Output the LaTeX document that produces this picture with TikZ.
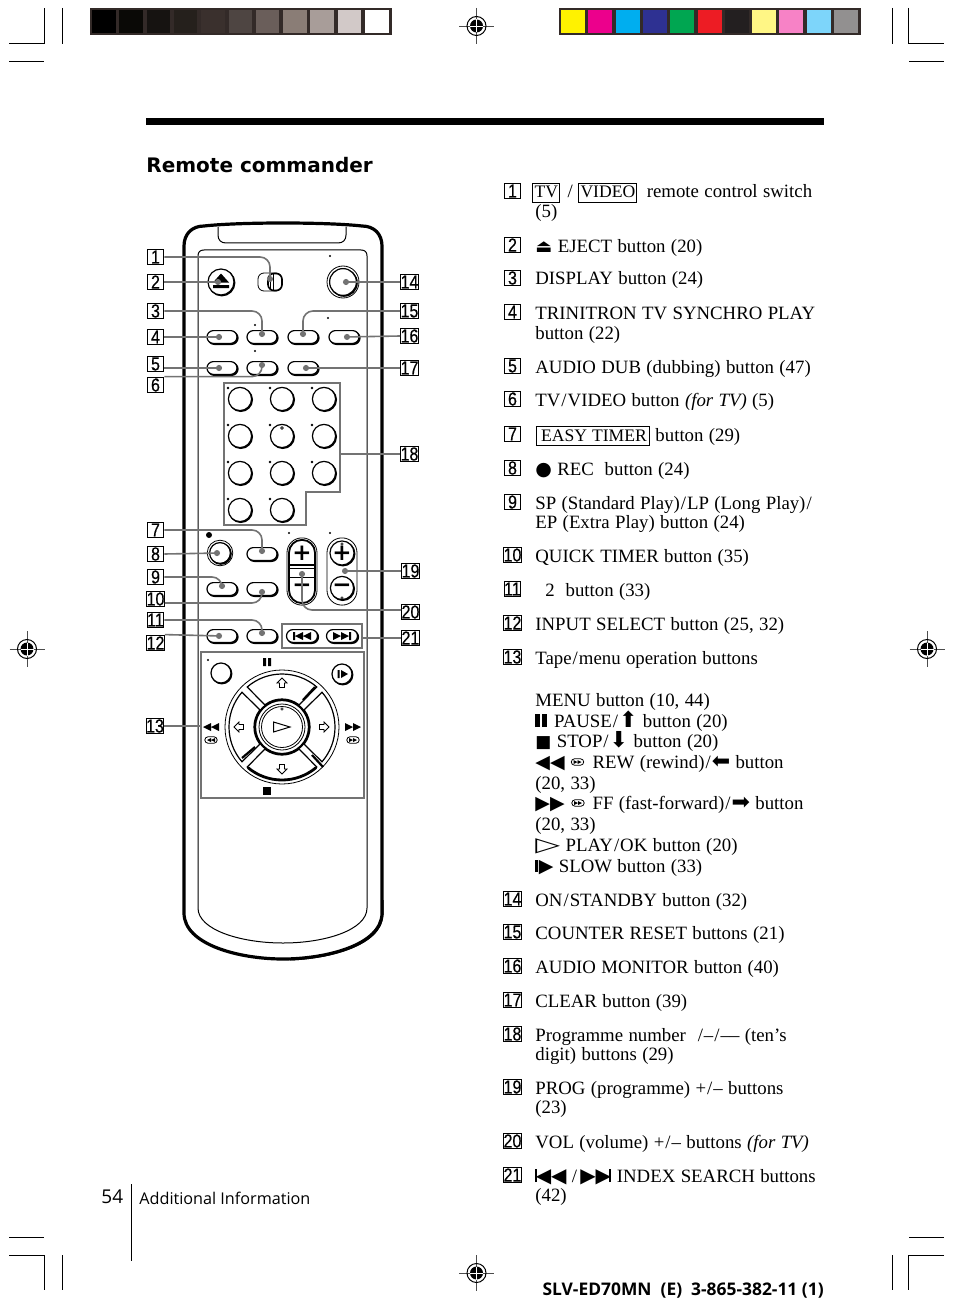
\documentclass[tikz,border=0pt]{standalone}
\usepackage{fontspec}
\usetikzlibrary{arrows.meta}
\usetikzlibrary{shapes.misc}
\usetikzlibrary{shadows}
\setmainfont{Liberation Serif}[WordSpace=1.15]
\newfontfamily\symfont{DejaVu Sans}
\newfontfamily\numfont[FakeStretch=0.85,FakeBold=0.4]{Liberation Sans}
\newfontfamily\footfont{Open Sans}
\setlength{\fboxsep}{0.6pt}
\setlength{\fboxrule}{0.5pt}
\definecolor{barframe}{HTML}{332A28}
\newcommand{\sy}[2][9.5]{{\symfont\fontsize{#1}{10}\selectfont #2}}
\newcommand{\sla}{\kern0.5pt/\kern0.5pt}
\newcommand{\boxed}[1]{\fbox{\fontsize{8.8}{10}\selectfont\rule[-1.2pt]{0pt}{7.4pt}#1}}
\newcommand{\prevsy}{\rule{1pt}{6.6pt}\kern-0.8pt\sy[10]{◀◀}}
\newcommand{\nextsy}{\sy[10]{▶▶}\kern-0.8pt\rule{1pt}{6.6pt}}
\tikzset{
  leader/.style={draw=black!55, line width=0.8pt, rounded corners=5pt, -{Circle[length=3pt,fill=black!55]}},
  plainlead/.style={draw=black!55, line width=0.8pt},
  numbox/.style={draw, line width=0.6pt, inner sep=0pt, minimum width=8.3pt, minimum height=7.8pt,
    font=\numfont\fontsize{9.4}{9.4}\selectfont},
  itemline/.style={anchor=base west, inner sep=0pt, font=\fontsize{9.4}{10}\selectfont},
  pillbtn/.style={rounded rectangle, draw, fill=white, line width=0.6pt, inner sep=0pt,
    minimum width=15pt, minimum height=6.4pt,
    copy shadow={shadow xshift=0.5pt, shadow yshift=-0.5pt, draw=black, fill=black}},
  roundbtn/.style={circle, draw, fill=white, line width=0.6pt, inner sep=0pt, minimum size=#1,
    copy shadow={shadow xshift=0.4pt, shadow yshift=-0.4pt, draw=black, fill=black}},
  roundbtn/.default=11.6pt,
  graybox/.style={draw=black!55, line width=0.8pt},
  signtext/.style={inner sep=0pt, font=\symfont\bfseries\fontsize{11.5}{12}\selectfont},
  regmark/.pic={
    \draw[line width=0.3pt, black!70] (-17.5,0) -- (17.5,0) (0,-18) -- (0,18);
    \draw[line width=0.5pt] (0,0) circle (9.5);
    \fill (0,0) circle (6.5);
    \draw[white, line width=0.4pt] (-6.5,0) -- (6.5,0) (0,-6.5) -- (0,6.5);
  },
  ffmark/.pic={\fill (-8,-4) -- (0,0) -- (-8,4) -- cycle (0,-4) -- (8,0) -- (0,4) -- cycle;},
  miniff/.pic={
    \draw[line width=0.4pt] (-3,-3.2) -- (3,-3.2) arc (-90:90:3.2) -- (-3,3.2) arc (90:270:3.2) -- cycle;
    \fill (-4,-2) -- (0,0) -- (-4,2) -- cycle (0,-2) -- (4,0) -- (0,2) -- cycle;
  },
  skipmark/.pic={
    \fill (-9,-4) -- (-1,0) -- (-9,4) -- cycle (-1,-4) -- (7,0) -- (-1,4) -- cycle (7,-4) rectangle (9,4);
  },
  hollowarrow/.pic={
    \draw[line width=0.4pt] (0,-5) -- (5,0) -- (2.5,0) -- (2.5,4.5) -- (-2.5,4.5) -- (-2.5,0) -- (-5,0) -- cycle;
  }
}
\begin{document}
\begin{tikzpicture}[x=0.5pt,y=-0.5pt]
\useasboundingbox (0,0) rectangle (954,1300);

% crop marks
\draw[line width=0.5pt]
(9,44) -- (44.5,44) -- (44.5,8)
(62,8) -- (62,44)
(9,61.5) -- (44,61.5)
(892,8) -- (892,44)
(908.5,8) -- (908.5,44) -- (944,44)
(909,61.5) -- (944,61.5)
(9,1237) -- (44,1237)
(9,1255) -- (44.5,1255) -- (44.5,1290)
(62,1255) -- (62,1290)
(909,1237) -- (944,1237)
(944,1255) -- (908.5,1255) -- (908.5,1290)
(892,1255) -- (892,1290);
\pic at (476.5,26) {regmark};
\pic at (476.5,1273) {regmark};
\pic at (27,649) {regmark};
\pic at (927,649) {regmark};

% colour bars
\fill[barframe] (90,8) rectangle (392,35);
\foreach \c [count=\i from 0] in {000000,0A0906,161311,25201C,3A302D,4E4542,6A5E5A,8A7D76,A89D99,D2C9C8,FFFFFF} {
  \definecolor{cell}{HTML}{\c}
  \fill[cell] (92+27.3*\i,10) rectangle ++(23.5,23);
}
\fill[barframe] (559,8) rectangle (861,35);
\foreach \c [count=\i from 0] in {FFF200,EC008C,00AEEF,2E3192,00A651,ED1C24,231F20,FFF685,F782C6,7DD5FA,929090} {
  \definecolor{cell}{HTML}{\c}
  \fill[cell] (561+27.3*\i,10) rectangle ++(24,23);
}

% heading
\fill (146,118) rectangle (824,125);
\node[anchor=base west, inner sep=0pt, font=\symfont\bfseries\fontsize{10}{12}\selectfont] (title) at (146,173) {Remote commander};

% remote body
\draw[line width=1.6pt]
(184,246) .. controls (184,234) and (192,226) .. (204,226)
.. controls (240,222) and (326,222) .. (362,226)
.. controls (374,226) and (382,234) .. (382,246)
-- (382,913) .. controls (382,945) and (326,959) .. (283,959)
.. controls (240,959) and (184,945) .. (184,913) -- cycle;
\draw[line width=1pt] (382.5,900) -- (382.5,915) .. controls (381,945) and (330,958) .. (290,959.5);
\draw[line width=0.5pt]
(218,227) -- (218,235) .. controls (218,240) and (221,243) .. (226,243) -- (338,243)
.. controls (343,243) and (346,240) .. (346,235) -- (346,227);
\draw[line width=0.5pt]
(198,908) -- (198,256) .. controls (198,252) and (200,250) .. (204,250) -- (361,250)
.. controls (365,250) and (367,252) .. (367,256) -- (367,908)
.. controls (367,930) and (325,943) .. (283,943)
.. controls (241,943) and (198,930) .. (198,908);

% top buttons
\node[roundbtn=13pt] (eject) at (221,282) {};
\node[draw, rounded corners=3pt, line width=0.4pt, inner sep=0pt, minimum width=12pt, minimum height=9pt] (sw) at (270,282) {};
\node[draw, fill=white, rounded corners=3pt, line width=0.8pt, inner sep=0pt, minimum width=7pt, minimum height=8.5pt] (knob) at (275,282) {};
\draw[line width=0.4pt] (270,275) -- (270,289) (273,274) -- (273,290);
\node[circle, draw, line width=0.4pt, inner sep=0pt, minimum size=16pt] (powerring) at (343,282) {};
\node[roundbtn=13.4pt] (power) at (343,282) {};

% rows of pill buttons
\node[pillbtn] (trini) at (222,337) {};
\node[pillbtn] (display) at (262,337) {};
\node[pillbtn] (reset) at (303,337) {};
\node[pillbtn] (monitor) at (344,337) {};
\node[pillbtn] (dub) at (222,368) {};
\node[pillbtn] (tvvideo) at (262,368) {};
\node[pillbtn] (clear) at (303,368) {};
\node[pillbtn] (easy) at (262,554) {};
\node[pillbtn] (speed) at (222,589) {};
\node[pillbtn] (quick) at (262,589) {};
\node[pillbtn] (input) at (222,636) {};
\node[pillbtn] (xtwo) at (262,636) {};

% number keys
\foreach \x/\y/\k in {240/399/a,282/399/b,324/399/c,240/436/d,282/436/e,324/436/f,240/473/g,282/473/h,324/473/i,240/510/j,282/510/k} {
  \node[roundbtn] (key\k) at (\x,\y) {};
  \fill (\x-12,\y-11) circle (1.4);
}
\draw[line width=0.3pt, fill=white] (282,428) circle (1.4);
\draw[graybox] (224,383) -- (340,383) -- (340,492) -- (306,492) -- (306,525) -- (224,525) -- cycle;
\coordinate (keyedge) at (340,454);

% rec, prog, vol
\node[circle, draw, line width=0.4pt, inner sep=0pt, minimum size=12.8pt] (recring) at (220,553) {};
\node[roundbtn=10.4pt] (rec) at (220,553) {};
\fill (209,535) circle (3);
\node[draw, rounded corners=7.4pt, line width=0.4pt, inner sep=0pt, minimum width=15pt, minimum height=33.6pt] (progout) at (302,571.5) {};
\node[draw, rounded corners=6.4pt, line width=0.9pt, inner sep=0pt, minimum width=13pt, minimum height=31.6pt] (prog) at (302,571.5) {};
\draw[line width=0.8pt] (288,565) -- (316,565);
\draw[line width=0.3pt] (289,568) -- (315,568) (289,577) -- (315,577);
\node[signtext] (progplus) at (302,553) {+};
\node[signtext] (progminus) at (302,588) {−};
\node[draw, rounded corners=7.4pt, line width=0.4pt, inner sep=0pt, minimum width=15pt, minimum height=33.6pt] (volout) at (342,571.5) {};
\node[roundbtn, signtext] (volplus) at (342,553) {+};
\node[roundbtn, signtext] (volminus) at (342,588) {−};
\draw[line width=0.3pt] (342,544) circle (1.2) (342,598) circle (1.2);
\coordinate (volmid) at (342,571);
\coordinate (progmid) at (302,571);
\fill (289,533) circle (1.2) (330,533) circle (1.2);

% index search
\node[graybox, inner sep=0pt, minimum width=40pt, minimum height=12pt] (indexbox) at (322,636) {};
\node[pillbtn, minimum width=15.5pt] (prevbtn) at (302,636) {};
\node[pillbtn, minimum width=15.5pt] (nextbtn) at (342,636) {};
\pic[xscale=-1] at (302,636) {skipmark};
\pic at (342,636) {skipmark};

% tape block
\node[graybox, inner sep=0pt, minimum width=81.5pt, minimum height=73pt] (menubox) at (282.5,725) {};
\node[roundbtn=10pt] (menu) at (221,673) {};
\fill (208,660) circle (1.2);
\node[roundbtn=10pt] (slow) at (342,674) {};
\fill (337.5,670) rectangle (339.5,678) (341,670) -- (348,674) -- (341,678) -- cycle;
\fill (263,658) rectangle (266,666) (268,658) rectangle (271,666);
\fill (263,787) rectangle (271,795);
\draw[line width=0.4pt] (282,727) circle (57);
\foreach \a in {0,90,180,270} {
  \draw[shift={(282,727)}, line width=0.6pt] ({\a-41}:53) arc[start angle=\a-41, end angle=\a+41, radius=53]
  -- ({\a+37.8}:28) arc[start angle=\a+37.8, end angle=\a-37.8, radius=28] -- cycle;
}
\draw[line width=1.1pt] (282,727) circle (27);
\draw[shift={(282,727)}, line width=1.4pt] (50:53) arc[start angle=50, end angle=130, radius=53];
\draw[line width=1.1pt] (303,700) -- (315,687) (242,758) -- (255,747) (312,755) -- (323,767);
\draw[line width=0.4pt] (282,727) circle (23) (282,727) circle (20.5);
\draw[line width=0.3pt] (282,709) circle (1.2);
\draw[line width=0.5pt] (273.5,722) -- (290,727) -- (273.5,732) -- cycle;
\pic at (282,683) {hollowarrow};
\pic[rotate=180] at (282,769) {hollowarrow};
\pic[rotate=90] at (239,727) {hollowarrow};
\pic[rotate=-90] at (324,727) {hollowarrow};
\pic[xscale=-1] at (211,727) {ffmark};
\pic at (353,727) {ffmark};
\pic[xscale=-1] at (211,740) {miniff};
\pic at (353,740) {miniff};

% dots over the top rows
\fill (330,256) circle (1.2) (255,325) circle (1.2) (328,318) circle (1.2) (255,351) circle (1.2);

% eject mark
\fill (221,273.5) -- (229,282.5) -- (213,282.5) -- cycle (213,285) rectangle (229,288);

% left labels
\foreach \n/\y in {1/257,2/282,3/311,4/337,5/364,6/385,7/530,8/554,9/577,10/599,11/620,12/643} {
  \node[numbox] (n\n) at (155.5,\y) {\n};
}
\node[numbox] (n13) at (155,726) {13};

% right labels
\foreach \n/\y in {14/282,15/311,16/336,17/368,18/454} {
  \node[numbox] (n\n) at (409.5,\y) {\n};
}
\foreach \n/\y in {19/571,20/612,21/638} {
  \node[numbox] (n\n) at (410.5,\y) {\n};
}

% connectors
\draw[leader] (n1.east) -| (sw.center);
\draw[leader] (n2.east) -- (eject.center);
\draw[leader] (n3.east) -| (display.center);
\draw[leader] (n4.east) -- (trini.center);
\draw[leader] (n5.east |- dub.center) -- (dub.center);
\draw[leader] (n6.north east) -| (tvvideo.center);
\draw[leader] (n7.east) -| (easy.center);
\draw[leader] (n8.east) -- (rec.center);
\draw[leader] (n9.east) -| (speed.center);
\draw[leader] ([yshift=-2pt]n10.east) -| (quick.center);
\draw[leader] (n11.east) -| (xtwo.center);
\draw[leader] (n12.north east) -- (input.center);
\draw[plainlead] (n13.east) -- (menubox.west |- n13.east);
\draw[leader] (n14.west) -- (power.center);
\draw[leader] (n15.west) -| (reset.center);
\draw[leader] (n16.west) -- (monitor.center);
\draw[leader] (n17.west) -- (clear.center);
\draw[plainlead] (n18.west) -- (keyedge);
\draw[leader] (n19.west) -- (volmid);
\draw[leader] ([yshift=1pt]n20.west) -| (progmid);
\draw[plainlead] (n21.west) -- (indexbox.east |- n21.west);

% item numbers
\foreach \n/\y in {1/191,2/245,3/278,4/312,5/366,6/399,7/434,8/468,9/502,10/555,11/589,12/623,13/657,14/899,15/932,16/966,17/1000,18/1034,19/1087,20/1141,21/1175} {
  \node[numbox] (r\n) at (512.5,\y) {\n};
}

% item texts
\foreach \y/\t in {
  218/{(5)},
  252/{\sy[9]{⏏} EJECT button (20)},
  285/{DISPLAY button (24)},
  319/{TRINITRON TV SYNCHRO PLAY},
  339/{button (22)},
  373/{AUDIO DUB (dubbing) button (47)},
  406/{TV\sla VIDEO button \textit{(for TV)} (5)},
  475/{\sy[9.5]{●} REC\ \ button (24)},
  509/{SP (Standard Play)\sla LP (Long Play)\sla},
  528/{EP (Extra Play) button (24)},
  562/{QUICK TIMER button (35)},
  630/{INPUT SELECT button (25, 32)},
  664/{Tape\sla menu operation buttons},
  706/{MENU button (10, 44)},
  727/{\rule{2.2pt}{6.4pt}\kern1.2pt\rule{2.2pt}{6.4pt}\kern1pt\ PAUSE\sla\sy[11]{⬆} button (20)},
  747/{\sy[8.5]{■} STOP\sla\sy[11]{⬇} button (20)},
  768/{\sy{◀◀}\hspace{14pt}REW (rewind)\sla\sy[11]{⬅} button},
  789/{(20, 33)},
  809/{\sy{▶▶}\hspace{14pt}FF (fast-forward)\sla\sy[11]{➡} button},
  830/{(20, 33)},
  851/{\scalebox{1.7}[1.05]{\sy{▷}} PLAY\sla OK button (20)},
  872/{\rule{1.4pt}{6pt}\kern0.3pt\sy{▶} SLOW button (33)},
  906/{ON\sla STANDBY button (32)},
  939/{COUNTER RESET buttons (21)},
  973/{AUDIO MONITOR button (40)},
  1007/{CLEAR button (39)},
  1041/{Programme number\ \ \sla–\sla–– (ten’s},
  1060/{digit) buttons (29)},
  1094/{PROG (programme) +\sla– buttons},
  1113/{(23)},
  1148/{VOL (volume) +\sla– buttons \textit{(for TV)}},
  1182/{\prevsy\ /\,\nextsy\ INDEX SEARCH buttons},
  1201/{(42)}} {
  \node[itemline] (t\y) at (535,\y) {\t};
}
\node[itemline] (t198) at (532,198) {\boxed{TV}\kern1pt\ /\ \boxed{VIDEO}\kern2pt\ remote control switch};
\node[itemline] (t441) at (535.5,441) {\boxed{\kern1.5pt EASY TIMER\kern0.5pt}\ button (29)};
\node[itemline] (t596) at (545,596) {2\ \ button (33)};
\pic at (577.5,762) {miniff};
\pic at (578,803) {miniff};

% footer
\node[anchor=base west, inner sep=0pt, font=\footfont\fontsize{9.5}{12}\selectfont] (pageno) at (101,1203) {54};
\draw[line width=0.5pt] (131,1184) -- (131,1261);
\node[anchor=base west, inner sep=0pt, font=\footfont\fontsize{8.1}{10}\selectfont] (section) at (139,1204) {Additional Information};
\node[anchor=base east, inner sep=0pt, font=\footfont\bfseries\fontsize{8.7}{10}\selectfont] (model) at (824,1295.5) {SLV-ED70MN\ \ (E)\ \ 3-865-382-11 (1)};
\end{tikzpicture}
\end{document}
